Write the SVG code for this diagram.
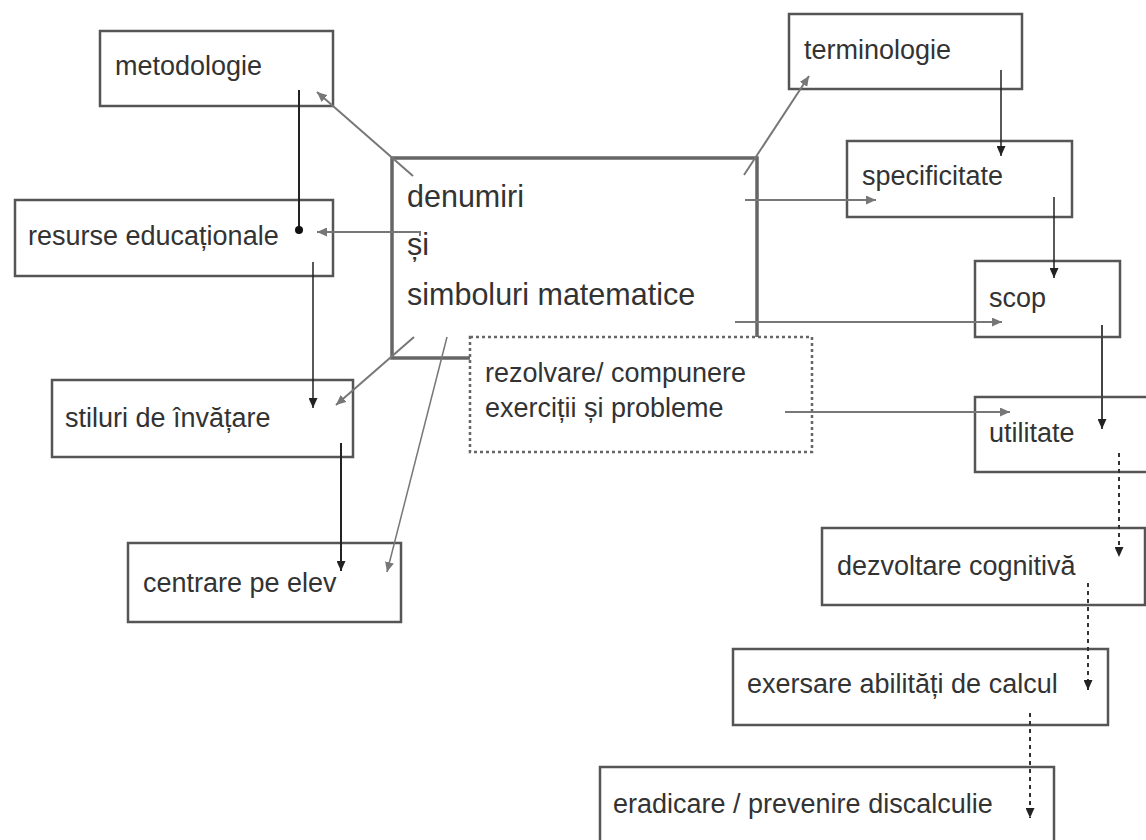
<svg xmlns="http://www.w3.org/2000/svg" width="1146" height="840" viewBox="0 0 1146 840">
<style>
.box{fill:#fff;stroke:#555;stroke-width:2.5}
.main{fill:none;stroke:#666;stroke-width:3.5}
.dot{fill:none;stroke:#666;stroke-width:2.5;stroke-dasharray:3 3}
.t{font-family:"Liberation Sans",Arial,sans-serif;font-size:27px;fill:#333}
.tc{font-family:"Liberation Sans",Arial,sans-serif;font-size:30.5px;fill:#333}
.k{fill:none;stroke:#222;stroke-width:2}
.g{fill:none;stroke:#777;stroke-width:2}
.d{fill:none;stroke:#333;stroke-width:2;stroke-dasharray:4 4}
</style>
<defs>
<marker id="ak" markerUnits="userSpaceOnUse" markerWidth="10" markerHeight="9" refX="10" refY="4.5" orient="auto"><path d="M0,0 L10,4.5 L0,9 z" fill="#222"/></marker>
<marker id="ag" markerUnits="userSpaceOnUse" markerWidth="10" markerHeight="9" refX="10" refY="4.5" orient="auto"><path d="M0,0 L10,4.5 L0,9 z" fill="#777"/></marker>
<marker id="dk" markerUnits="userSpaceOnUse" markerWidth="10" markerHeight="10" refX="5" refY="5"><circle cx="5" cy="5" r="4" fill="#111"/></marker>
</defs>
<rect width="1146" height="840" fill="#fff"/>

<g id="n-metodologie"><rect class="box" x="100" y="31" width="233" height="75"/><text class="t" x="115" y="75">metodologie</text></g>
<g id="n-resurse"><rect class="box" x="15" y="200" width="318" height="76"/><text class="t" x="28" y="245">resurse educaționale</text></g>
<g id="n-stiluri"><rect class="box" x="52" y="380" width="301" height="77"/><text class="t" x="65" y="427">stiluri de învățare</text></g>
<g id="n-centrare"><rect class="box" x="128" y="543" width="273" height="79"/><text class="t" x="143" y="592">centrare pe elev</text></g>
<g id="n-central"><rect class="main" x="392" y="158" width="365" height="200"/><text class="tc" x="407" y="207">denumiri</text><text class="tc" x="407" y="255">și</text><text class="tc" x="407" y="305">simboluri matematice</text></g>
<g id="n-rezolvare"><rect class="dot" fill="#fff" x="470" y="337" width="342" height="115" style="fill:#fff"/><text class="t" x="485" y="382">rezolvare/ compunere</text><text class="t" x="485" y="417">exerciții și probleme</text></g>
<g id="n-terminologie"><rect class="box" x="789" y="14" width="233" height="75"/><text class="t" x="804" y="59">terminologie</text></g>
<g id="n-specificitate"><rect class="box" x="847" y="141" width="225" height="76"/><text class="t" x="862" y="185">specificitate</text></g>
<g id="n-scop"><rect class="box" x="975" y="261" width="145" height="76"/><text class="t" x="989" y="307">scop</text></g>
<g id="n-utilitate"><rect class="box" x="975" y="397" width="180" height="75"/><text class="t" x="989" y="442">utilitate</text></g>
<g id="n-dezvoltare"><rect class="box" x="822" y="528" width="323" height="77"/><text class="t" x="837" y="575">dezvoltare cognitivă</text></g>
<g id="n-exersare"><rect class="box" x="733" y="649" width="375" height="76"/><text class="t" x="747" y="693">exersare abilități de calcul</text></g>
<g id="n-eradicare"><rect class="box" x="600" y="767" width="454" height="90"/><text class="t" x="613" y="813">eradicare / prevenire discalculie</text></g>

<g id="connectors">
<line class="k" x1="299" y1="90" x2="299" y2="230" marker-end="url(#dk)"/>
<line class="g" x1="413" y1="176" x2="317" y2="92" marker-end="url(#ag)"/>
<polyline class="g" points="420,236 420,232 317,232" marker-end="url(#ag)"/>
<line class="k" style="stroke-width:1.5" x1="313" y1="262" x2="313" y2="408" marker-end="url(#ak)"/>
<line class="g" x1="414" y1="337" x2="336" y2="405" marker-end="url(#ag)"/>
<line class="k" x1="341" y1="443" x2="341" y2="571" marker-end="url(#ak)"/>
<line class="g" style="stroke-width:1.5" x1="447" y1="337" x2="387" y2="572" marker-end="url(#ag)"/>
<line class="g" x1="744" y1="175" x2="809" y2="76" marker-end="url(#ag)"/>
<line class="g" x1="745" y1="200" x2="876" y2="200" marker-end="url(#ag)"/>
<line class="k" style="stroke-width:1.5" x1="1001" y1="70" x2="1001" y2="156" marker-end="url(#ak)"/>
<line class="k" style="stroke-width:1.5" x1="1054" y1="197" x2="1054" y2="278" marker-end="url(#ak)"/>
<line class="g" x1="735" y1="322" x2="1002" y2="322" marker-end="url(#ag)"/>
<line class="g" x1="785" y1="412" x2="1010" y2="412" marker-end="url(#ag)"/>
<line class="k" style="stroke:#444" x1="1102" y1="325" x2="1102" y2="429" marker-end="url(#ak)"/>
<line class="d" x1="1119" y1="453" x2="1119" y2="557" marker-end="url(#ak)"/>
<line class="d" x1="1088" y1="583" x2="1088" y2="690" marker-end="url(#ak)"/>
<line class="d" x1="1030" y1="713" x2="1030" y2="818" marker-end="url(#ak)"/>
</g>
</svg>
